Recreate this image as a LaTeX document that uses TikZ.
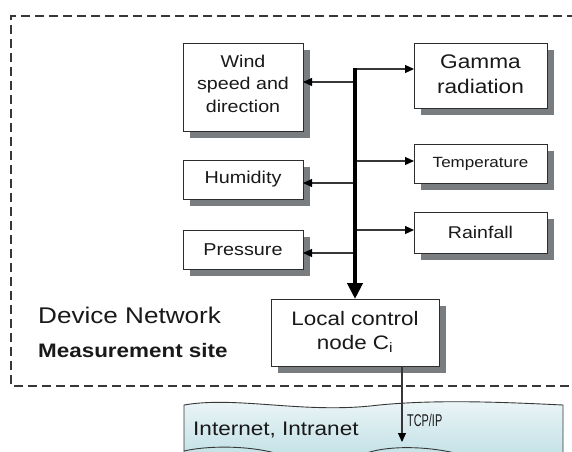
\documentclass[tikz,border=0pt]{standalone}
\usepackage{fontspec}
\setmainfont{Liberation Sans}[FakeStretch=1.15]
\newfontfamily\narrowsans{Liberation Sans}[FakeStretch=0.64]
\usetikzlibrary{arrows.meta,shadows}

\definecolor{ink}{RGB}{25,25,25}
\definecolor{edge}{RGB}{45,45,45}
\definecolor{shade}{RGB}{122,125,128}
\definecolor{wire}{RGB}{55,55,55}
\definecolor{frame}{RGB}{55,55,55}
\definecolor{netTop}{RGB}{238,246,248}
\definecolor{netBottom}{RGB}{190,223,229}

\newcommand{\fs}[2]{\fontsize{#1}{#2}\selectfont}
\newcommand{\lines}[1]{\begin{tabular}{@{}c@{}}#1\end{tabular}}

\begin{document}
\begin{tikzpicture}[x=1pt, y=-1pt,
  box/.style={draw=edge, line width=0.9pt, fill=white, inner sep=0pt,
    outer sep=0pt, text=ink,
    drop shadow={shadow xshift=7pt, shadow yshift=-7pt, fill=shade, opacity=1}},
  feed/.style={draw=wire, line width=1.1pt,
    -{Triangle[length=9pt,width=8pt,color=black]}},
  bus/.style={draw=black, line width=4pt, -{Triangle[length=16pt,width=15pt]}},
  region/.style={draw=frame, line width=1.1pt, dash pattern=on 9pt off 5pt},
  lbl/.style={inner sep=0pt, text=ink, anchor=base west}
]
\path[use as bounding box] (0,0) rectangle (572,451);
\clip (0,0) rectangle (572,451);

% boundary of the measurement site
\draw[region] (590,16) -- (11,16) -- (11,386) -- (590,386);

% Internet / intranet band
\path[draw=frame, line width=0.9pt, top color=netTop, bottom color=netBottom]
  (184,462) -- (184,405)
  .. controls (235,396) and (300,413) .. (370,406)
  .. controls (430,399) and (500,402) .. (563,405)
  -- (563,462) -- cycle;
\draw[frame, line width=0.9pt]
  (184,451) .. controls (205,446) and (245,445) .. (275,453)
  .. controls (305,461) and (340,459) .. (370,452)
  .. controls (390,446) and (425,446) .. (455,453)
  .. controls (490,460) and (530,458) .. (563,455);

% sensor boxes
\node[box, minimum width=120pt, minimum height=88pt, font=\fs{17.1}{22.5}]
  (wind) at (243,87)
  {\raisebox{2pt}[\height][\depth]{\lines{Wind\\speed and\\direction}}};
\node[box, minimum width=133pt, minimum height=65pt, font=\fs{19.7}{25}]
  (gamma) at (480.5,75.5) {\lines{Gamma\\radiation}};
\node[box, minimum width=133pt, minimum height=39pt, font=\fs{14.8}{18}]
  (temp) at (480.5,163.5) {Temperature};
\node[box, minimum width=120pt, minimum height=39pt, font=\fs{17.2}{21}]
  (humid) at (243,179.5) {Humidity};
\node[box, minimum width=133pt, minimum height=41pt, font=\fs{17}{21}]
  (rain) at (480.5,232.5) {Rainfall};
\node[box, minimum width=120pt, minimum height=39pt, font=\fs{17.2}{21}]
  (press) at (243,249.5) {Pressure};
\node[box, minimum width=168pt, minimum height=67pt, font=\fs{19.5}{24}]
  (local) at (355,332.5) {\lines{Local control\\node C\textsubscript{i}}};

% branches off the bus
\coordinate (bustop) at (355,68);
\foreach \y/\n in {82/wind, 183/humid, 253/press} {
  \coordinate (b\n) at (355,\y);
  \draw[feed] (b\n) -- (\n.east |- b\n);
}
\foreach \y/\n in {69/gamma, 161/temp, 230/rain} {
  \coordinate (b\n) at (355,\y);
  \draw[feed] (b\n) -- (\n.west |- b\n);
}
\draw[bus] (bustop) -- (local.north);

% uplink to the network
\coordinate (tcp) at (402,442);
\draw[feed] (local.south -| tcp) -- (tcp);
\node[lbl, font=\narrowsans\fs{17}{20}] (tcpip) at (407,426) {TCP/IP};

% area labels
\node[lbl, font=\fs{22.7}{27}] (devnet) at (38,323.3) {Device Network};
\node[lbl, font=\bfseries\fs{19.5}{23}] (site) at (38,357.3) {Measurement site};
\node[lbl, font=\fs{19.6}{23}] (inet) at (193,435) {Internet, Intranet};
\end{tikzpicture}
\end{document}
